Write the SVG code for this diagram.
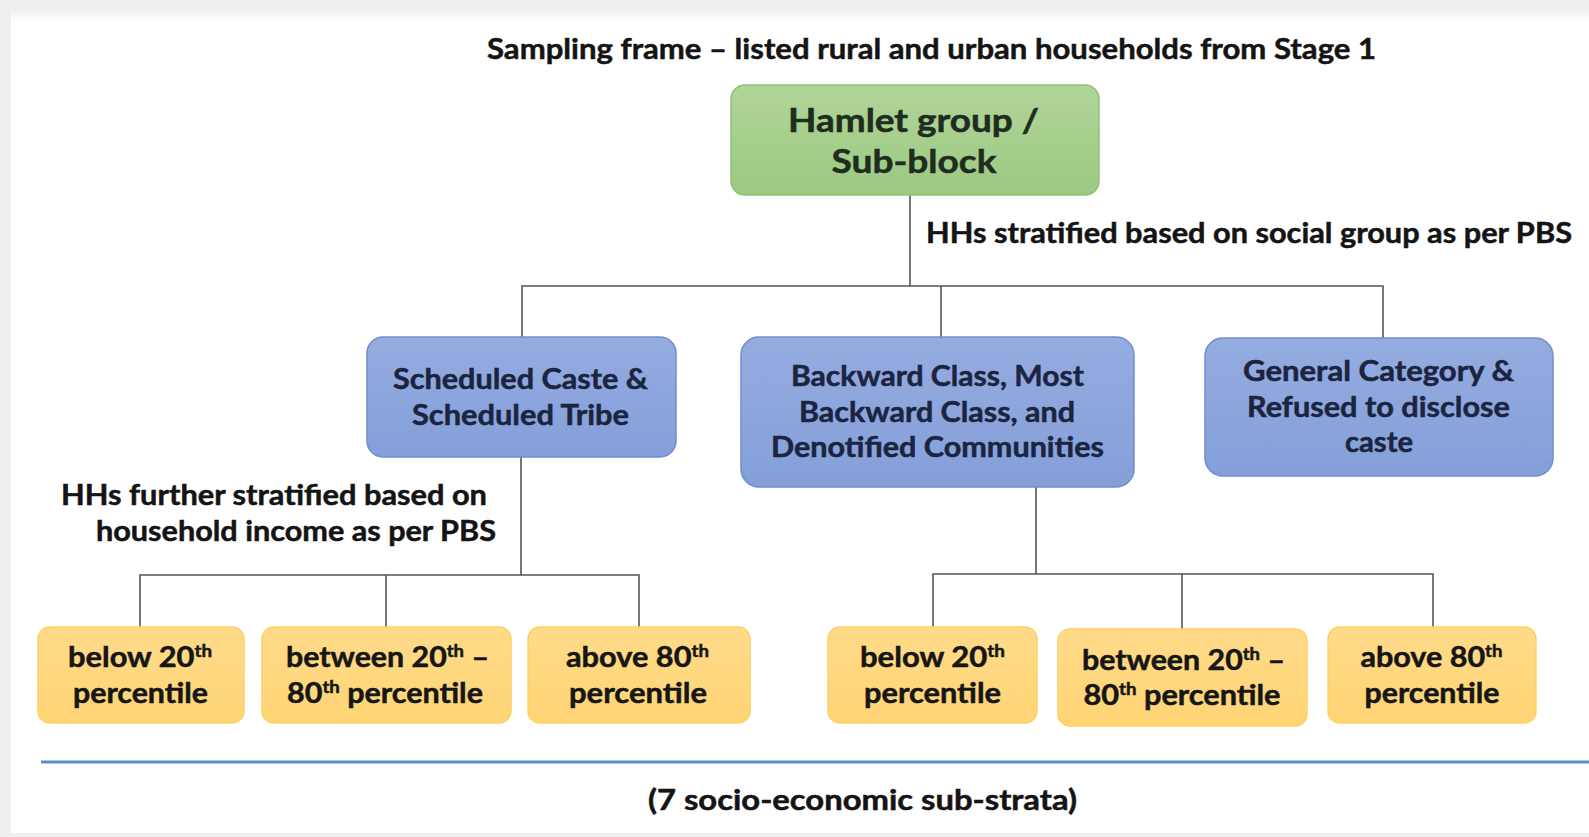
<svg xmlns="http://www.w3.org/2000/svg" width="1589" height="837" viewBox="0 0 1589 837">
  <defs>
    <linearGradient id="gGreen" x1="0" y1="0" x2="0" y2="1">
      <stop offset="0" stop-color="#b0d599"/>
      <stop offset="1" stop-color="#9cc982"/>
    </linearGradient>
    <linearGradient id="gBlue" x1="0" y1="0" x2="0" y2="1">
      <stop offset="0" stop-color="#95ace0"/>
      <stop offset="1" stop-color="#849fd9"/>
    </linearGradient>
    <linearGradient id="gYellow" x1="0" y1="0" x2="0" y2="1">
      <stop offset="0" stop-color="#ffdb8a"/>
      <stop offset="1" stop-color="#ffd474"/>
    </linearGradient>
    <linearGradient id="gTop" x1="0" y1="0" x2="0" y2="1">
      <stop offset="0" stop-color="#efefef"/>
      <stop offset="1" stop-color="#ffffff"/>
    </linearGradient>
    <style>
      text { font-family: Lato, "Open Sans", "Liberation Sans", sans-serif; font-weight: 700; stroke-width: 0.5; }
      .title { font-size: 29px; fill: #141414; stroke: #141414; }
      .lbl { font-size: 28px; fill: #141414; stroke: #141414; }
      .green rect { fill: url(#gGreen); stroke: #91c079; stroke-width: 1.5; }
      .green text { font-size: 32px; fill: #1f2d1e; stroke: #1f2d1e; text-anchor: middle; }
      .blue rect { fill: url(#gBlue); stroke: #718dcc; stroke-width: 1.5; }
      .blue text { font-size: 28px; fill: #1b2440; stroke: #1b2440; text-anchor: middle; }
      .yellow rect { fill: url(#gYellow); stroke: #ffcf66; stroke-width: 1.5; }
      .yellow text { font-size: 28px; fill: #161616; stroke: #161616; text-anchor: middle; }
      .sup { font-size: 17px; }
      #connectors path { fill: none; stroke: #555555; stroke-width: 1.6; }
    </style>
  </defs>

  <!-- page background and panel -->
  <rect x="0" y="0" width="1589" height="837" fill="#efefef"/>
  <rect x="11" y="9" width="1578" height="824" fill="#ffffff"/>
  <rect x="11" y="9" width="1578" height="12" fill="url(#gTop)"/>

  <!-- headings and stratification labels -->
  <text class="title" x="931.5" y="59" text-anchor="middle" textLength="889" lengthAdjust="spacingAndGlyphs">Sampling frame – listed rural and urban households from Stage 1</text>
  <text class="lbl" x="926" y="243" textLength="646" lengthAdjust="spacingAndGlyphs">HHs stratified based on social group as per PBS</text>
  <text class="lbl" x="61" y="505" textLength="426" lengthAdjust="spacingAndGlyphs">HHs further stratified based on</text>
  <text class="lbl" x="96" y="541" textLength="400" lengthAdjust="spacingAndGlyphs">household income as per PBS</text>

  <!-- connectors -->
  <g id="connectors">
    <path d="M910 195 V286"/>
    <path d="M522 337 V286 H1383 V338"/>
    <path d="M941 286 V337"/>
    <path d="M521 457 V575"/>
    <path d="M140 627 V575 H639 V627"/>
    <path d="M386 575 V627"/>
    <path d="M1036 487 V574"/>
    <path d="M933 627 V574 H1433 V627"/>
    <path d="M1182 574 V629"/>
  </g>

  <!-- top node -->
  <g id="hamlet" class="green">
    <rect x="731" y="85" width="368" height="110" rx="14"/>
    <text x="913.5" y="132" textLength="251" lengthAdjust="spacingAndGlyphs">Hamlet group /</text>
    <text x="914" y="173" textLength="165" lengthAdjust="spacingAndGlyphs">Sub-block</text>
  </g>

  <!-- social group nodes -->
  <g id="sc-st" class="blue">
    <rect x="367" y="337" width="309" height="120" rx="16"/>
    <text x="520.5" y="389" textLength="255" lengthAdjust="spacingAndGlyphs">Scheduled Caste &amp;</text>
    <text x="520.5" y="425" textLength="217" lengthAdjust="spacingAndGlyphs">Scheduled Tribe</text>
  </g>
  <g id="bc-mbc-dnc" class="blue">
    <rect x="741" y="337" width="393" height="150" rx="18"/>
    <text x="937.5" y="386" textLength="293" lengthAdjust="spacingAndGlyphs">Backward Class, Most</text>
    <text x="937" y="422" textLength="276" lengthAdjust="spacingAndGlyphs">Backward Class, and</text>
    <text x="937.5" y="457" textLength="333" lengthAdjust="spacingAndGlyphs">Denotified Communities</text>
  </g>
  <g id="general" class="blue">
    <rect x="1205" y="338" width="348" height="138" rx="18"/>
    <text x="1378.5" y="381" textLength="271" lengthAdjust="spacingAndGlyphs">General Category &amp;</text>
    <text x="1378.5" y="417" textLength="263" lengthAdjust="spacingAndGlyphs">Refused to disclose</text>
    <text x="1379" y="452" textLength="68" lengthAdjust="spacingAndGlyphs">caste</text>
  </g>

  <!-- income sub-strata under SC & ST -->
  <g id="sc-below20" class="yellow">
    <rect x="38" y="627" width="206" height="96" rx="12"/>
    <text x="140" y="667" textLength="144" lengthAdjust="spacingAndGlyphs">below 20<tspan class="sup" dy="-10">th</tspan></text>
    <text x="140.5" y="703" textLength="135" lengthAdjust="spacingAndGlyphs">percentile</text>
  </g>
  <g id="sc-20to80" class="yellow">
    <rect x="262" y="627" width="249" height="96" rx="12"/>
    <text x="387.5" y="667" textLength="203" lengthAdjust="spacingAndGlyphs">between 20<tspan class="sup" dy="-10">th</tspan><tspan dy="10"> –</tspan></text>
    <text x="385" y="703" textLength="196" lengthAdjust="spacingAndGlyphs">80<tspan class="sup" dy="-10">th</tspan><tspan dy="10"> percentile</tspan></text>
  </g>
  <g id="sc-above80" class="yellow">
    <rect x="528" y="627" width="222" height="96" rx="12"/>
    <text x="637.5" y="667" textLength="143" lengthAdjust="spacingAndGlyphs">above 80<tspan class="sup" dy="-10">th</tspan></text>
    <text x="638" y="703" textLength="138" lengthAdjust="spacingAndGlyphs">percentile</text>
  </g>

  <!-- income sub-strata under BC, MBC & DNC -->
  <g id="bc-below20" class="yellow">
    <rect x="828" y="627" width="209" height="96" rx="12"/>
    <text x="932.5" y="667" textLength="145" lengthAdjust="spacingAndGlyphs">below 20<tspan class="sup" dy="-10">th</tspan></text>
    <text x="932.5" y="703" textLength="137" lengthAdjust="spacingAndGlyphs">percentile</text>
  </g>
  <g id="bc-20to80" class="yellow">
    <rect x="1058" y="629" width="249" height="97" rx="12"/>
    <text x="1183.5" y="670" textLength="203" lengthAdjust="spacingAndGlyphs">between 20<tspan class="sup" dy="-10">th</tspan><tspan dy="10"> –</tspan></text>
    <text x="1182" y="705" textLength="197" lengthAdjust="spacingAndGlyphs">80<tspan class="sup" dy="-10">th</tspan><tspan dy="10"> percentile</tspan></text>
  </g>
  <g id="bc-above80" class="yellow">
    <rect x="1328" y="627" width="208" height="96" rx="12"/>
    <text x="1431.5" y="667" textLength="142" lengthAdjust="spacingAndGlyphs">above 80<tspan class="sup" dy="-10">th</tspan></text>
    <text x="1432" y="703" textLength="135" lengthAdjust="spacingAndGlyphs">percentile</text>
  </g>

  <!-- summary rule and caption -->
  <line x1="41" y1="762" x2="1589" y2="762" stroke="#5b8ecb" stroke-width="3"/>
  <text class="lbl" x="862.5" y="810" text-anchor="middle" textLength="429" lengthAdjust="spacingAndGlyphs">(7 socio-economic sub-strata)</text>
</svg>
